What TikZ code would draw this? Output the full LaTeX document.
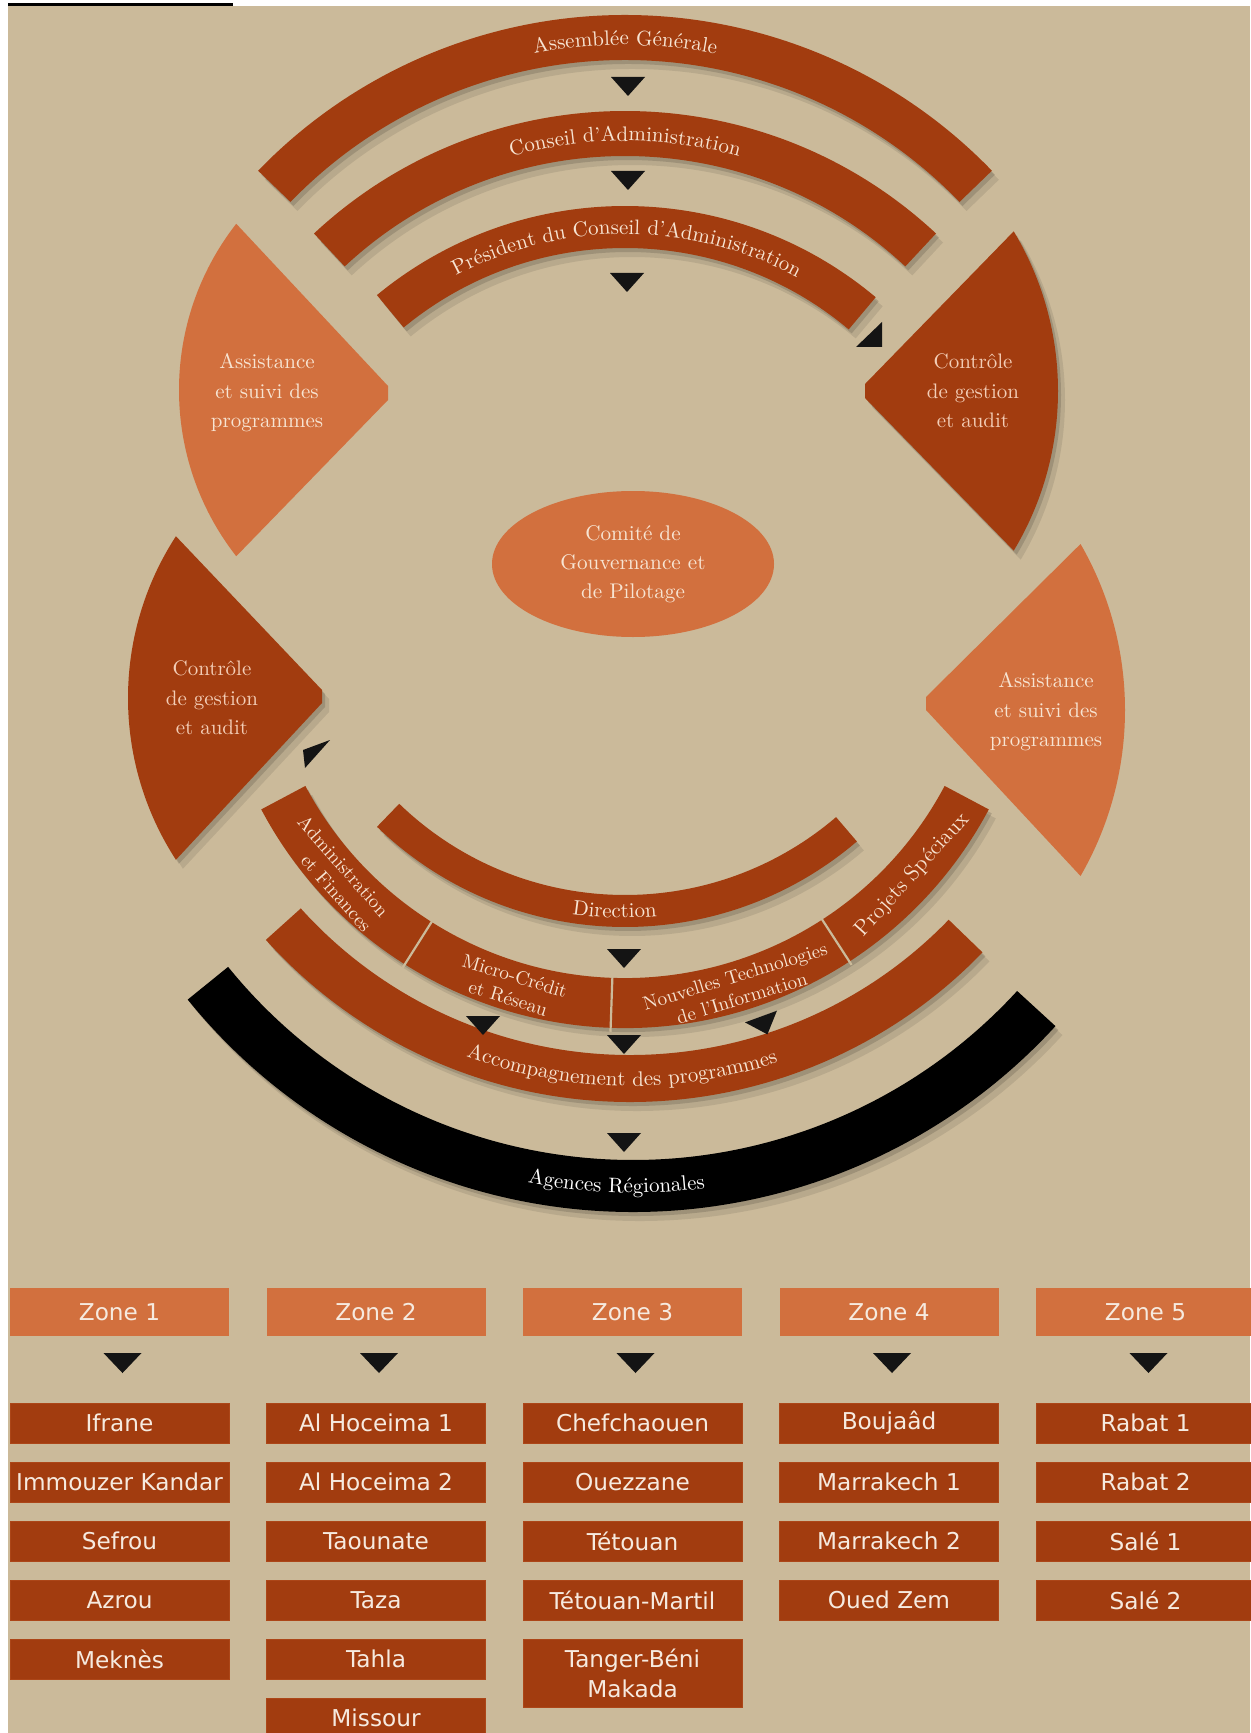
\documentclass[tikz,border=0pt]{standalone}
\usepackage{fontspec}
\newfontfamily\boxfont{DejaVu Sans}
\usetikzlibrary{decorations.text,shapes.geometric}
\definecolor{bg}{HTML}{CBBA9A}
\definecolor{rust}{HTML}{A23C0F}
\definecolor{orng}{HTML}{D2703E}
\definecolor{peach}{HTML}{F7E4D2}
\definecolor{pinkt}{HTML}{F3CDB6}
\definecolor{boxtxt}{HTML}{F6EADF}
\definecolor{tri}{HTML}{141414}
\newcommand\arcfnt{\fontsize{10.5}{12}\selectfont\color{peach}}
\newcommand\bandfill[7]{\fill[#1] ([shift={(#2,-#3)}]#4:#7) arc[start angle=#4,end angle=#5,radius=#7] -- ([shift={(#2,-#3)}]#5:#6) arc[start angle=#5,end angle=#4,radius=#6] -- cycle;}
\newcommand\arctext[6]{\path[decorate,decoration={text along path,text align=center,text={#6}}] ([shift={(#1,-#2)}]#3:#5) arc[start angle=#3,end angle=#4,radius=#5];}
\tikzset{
  softshadow/.style={
    preaction={fill=black,fill opacity=0.09,transform canvas={shift={(3.5pt,-4.5pt)}}},
    preaction={fill=black,fill opacity=0.14,transform canvas={shift={(1.5pt,-2pt)}}}},
  downtri/.pic={\fill[tri] (-17,9) -- (17,9) -- (0,-10) -- cycle;},
  zonetri/.pic={\fill[tri] (-19,10) -- (19,10) -- (0,-10) -- cycle;},
  sectortext/.style={align=center,inner sep=0pt,font=\fontsize{10.5}{14.75}\selectfont},
  ringtext/.style={inner sep=0pt,text=peach,font=\fontsize{9.6}{11.5}\selectfont},
  zonehead/.style={fill=orng,minimum width=109.5pt,minimum height=24pt,inner sep=0pt,text=boxtxt,font=\boxfont\fontsize{11.6}{13}\selectfont},
  cell/.style={fill=rust,draw=rust!80!orng,line width=0.4pt,minimum width=109.5pt,minimum height=20pt,inner sep=0pt,text=boxtxt,align=center,font=\boxfont\fontsize{11.6}{15}\selectfont},
  sep/.style={bg,line width=1.1pt}
}
\begin{document}
\begin{tikzpicture}[x=0.5pt,y=0.5pt]
\useasboundingbox (0,0) rectangle (1250,-1733);
\fill[white] (0,0) rectangle (1250,-1733);
\fill[bg] (8,-6) rectangle (1250,-1733);
\fill[black] (8,-2.6) rectangle (233,-5.8);

% ---- top arcs
\bandfill{rust,softshadow}{625}{525}{44}{136}{465}{510}
\bandfill{rust,softshadow}{625}{567}{47}{133}{411}{456}
\bandfill{rust,softshadow}{625}{596}{50}{129.5}{348}{390}
\arctext{625}{525}{136}{44}{480}{|\arcfnt|Assemblée Générale}
\arctext{625}{567}{133}{47}{426}{|\arcfnt|Conseil d’Administration}
\arctext{625}{596}{129.5}{50}{362}{|\arcfnt|Président du Conseil d’Administration}
\pic at (628,-86) {downtri};
\pic at (628,-180) {downtri};
\pic at (627,-282) {downtri};
\fill[tri] (882,-322) -- (882,-347) -- (856,-347) -- cycle;

% ---- sectors
\fill[orng] (388,-386) -- ([shift={(449,-390)}]142:270) arc[start angle=142,end angle=218,radius=270] -- (388,-400) -- cycle;
\fill[rust,softshadow] (865,-384) -- ([shift={(748,-391)}]31:310) arc[start angle=31,end angle=-31,radius=310] -- (865,-398) -- cycle;
\fill[rust,softshadow] (322,-690) -- ([shift={(425,-698)}]147:297) arc[start angle=147,end angle=213,radius=297] -- (322,-703) -- cycle;
\fill[orng] (926,-697) -- ([shift={(793,-710)}]30:332) arc[start angle=30,end angle=-30,radius=332] -- (926,-710) -- cycle;
\node[sectortext,text=peach] (assist1) at (267,-393) {Assistance\\et suivi des\\programmes};
\node[sectortext,text=pinkt] (ctrl1) at (973,-391) {Contrôle\\de gestion\\et audit};
\node[sectortext,text=pinkt] (ctrl2) at (212,-698) {Contrôle\\de gestion\\et audit};
\node[sectortext,text=peach] (assist2) at (1046,-712) {Assistance\\et suivi des\\programmes};
\fill[tri] (330,-740) -- (303,-750) -- (305,-768) -- cycle;

% ---- comite
\node[ellipse,fill=orng,minimum width=141pt,minimum height=73pt,inner sep=0pt,align=center,text=peach,font=\fontsize{10.6}{14.5}\selectfont] (comite) at (633,-564) {Comité de\\Gouvernance et\\de Pilotage};

% ---- bottom arcs
\bandfill{black,softshadow}{633}{639}{219}{317.5}{521}{573}
\bandfill{rust,softshadow}{630}{612}{222}{316}{443}{490}
\bandfill{rust,softshadow}{625}{616}{208}{332}{362}{412}
\bandfill{rust,softshadow}{625}{570}{226}{310.5}{325}{357}
\draw[sep] ([shift={(625,-616)}]237.7:358) -- ([shift={(625,-616)}]237.7:416);
\draw[sep] ([shift={(625,-616)}]268:358) -- ([shift={(625,-616)}]268:416);
\draw[sep] ([shift={(625,-616)}]303:358) -- ([shift={(625,-616)}]303:416);
\arctext{625}{570}{226}{310.5}{348}{|\arcfnt|Direction}
\arctext{630}{612}{222}{316}{474}{|\arcfnt|Accompagnement des programmes}
\arctext{633}{639}{219}{317.5}{554}{|\fontsize{10.5}{12}\selectfont\color{white}|Agences Régionales}
\node[ringtext,align=right,rotate=-48.6] (admin) at ([shift={(625,-616)}]221.6:388) {Administration\\et Finances};
\node[ringtext,align=center,rotate=-17] (micro) at ([shift={(625,-616)}]253:388) {Micro-Crédit\\et Réseau};
\node[ringtext,align=center,rotate=17] (ntic) at ([shift={(625,-616)}]287:388) {Nouvelles Technologies\\de l’Information};
\node[ringtext,rotate=48,font=\fontsize{11}{12}\selectfont] (proj) at ([shift={(625,-616)}]318:387) {Projets Spéciaux};
\pic at (624,-958) {downtri};
\pic at (483,-1025) {downtri};
\pic at (624,-1044) {downtri};
\pic[rotate=20] at (764,-1025) {downtri};
\pic at (624,-1142) {downtri};

% ---- zones
\foreach \i/\cx in {1/119.5,2/376,3/632.5,4/889,5/1145.5}{
  \node[zonehead] (zone\i) at (\cx,-1312) {Zone \i};
  \pic at (\cx+3,-1363) {zonetri};
}
\node[cell] (z1a) at (119.5,-1423) {Ifrane};
\node[cell] (z1b) at (119.5,-1482) {Immouzer Kandar};
\node[cell] (z1c) at (119.5,-1541) {Sefrou};
\node[cell] (z1d) at (119.5,-1600) {Azrou};
\node[cell] (z1e) at (119.5,-1659) {Meknès};
\node[cell] (z2a) at (376,-1423) {Al Hoceima 1};
\node[cell] (z2b) at (376,-1482) {Al Hoceima 2};
\node[cell] (z2c) at (376,-1541) {Taounate};
\node[cell] (z2d) at (376,-1600) {Taza};
\node[cell] (z2e) at (376,-1659) {Tahla};
\node[cell] (z2f) at (376,-1718) {Missour};
\node[cell] (z3a) at (632.5,-1423) {Chefchaouen};
\node[cell] (z3b) at (632.5,-1482) {Ouezzane};
\node[cell] (z3c) at (632.5,-1541) {Tétouan};
\node[cell] (z3d) at (632.5,-1600) {Tétouan-Martil};
\node[cell,minimum height=34pt] (z3e) at (632.5,-1673) {Tanger-Béni\\Makada};
\node[cell] (z4a) at (889,-1423) {Boujaâd};
\node[cell] (z4b) at (889,-1482) {Marrakech 1};
\node[cell] (z4c) at (889,-1541) {Marrakech 2};
\node[cell] (z4d) at (889,-1600) {Oued Zem};
\node[cell] (z5a) at (1145.5,-1423) {Rabat 1};
\node[cell] (z5b) at (1145.5,-1482) {Rabat 2};
\node[cell] (z5c) at (1145.5,-1541) {Salé 1};
\node[cell] (z5d) at (1145.5,-1600) {Salé 2};
\end{tikzpicture}
\end{document}
